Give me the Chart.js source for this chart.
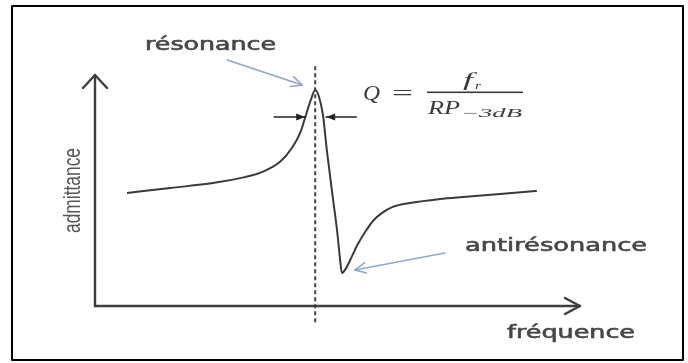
<!DOCTYPE html>
<html>
<head>
<meta charset="utf-8">
<script src="https://cdn.jsdelivr.net/npm/chart.js@4/dist/chart.umd.min.js"></script>
<style>
  html, body { margin: 0; padding: 0; background: #fff; }
  #wrap { width: 688px; height: 363px; position: relative; }
</style>
</head>
<body>
<div id="wrap"><canvas id="myChart"></canvas></div>
<script>
// courbe d'admittance d'un résonateur (unités arbitraires, axes 0..100)
const frequence = [6.6, 15.5, 24.3, 30.9, 34.0, 38.1, 40.6, 42.3, 43.5, 44.5, 45.4, 46.2, 47.0, 47.8, 49.1, 49.9, 50.5, 50.9, 51.8, 53.0, 54.2, 55.7, 57.3, 59.2, 61.4, 64.9, 71.1, 75.9, 83.5, 91.1];
const admittance = [48.9, 51.1, 53.2, 55.8, 57.6, 62.3, 68.4, 74.9, 82.7, 89.2, 93.5, 90.5, 82.7, 67.5, 45.9, 32.9, 20.8, 14.3, 16.5, 21.6, 26.8, 32.0, 36.8, 40.3, 42.9, 44.6, 46.3, 47.2, 48.5, 49.8];

// ligne pointillée verticale à la fréquence de résonance
const reperY = [-7, 104];

// textes
const labelResonance = "résonance";
const labelAntiResonance = "antirésonance";
const labelX = "fréquence";
const labelY = "admittance";

const pics = frequence.map((f, i) => ({ x: f, y: admittance[i] }));
const iMax = admittance.indexOf(Math.max(...admittance));
const iMin = admittance.indexOf(Math.min(...admittance));
const fRes = frequence[iMax];

// texte étiré horizontalement pour tenir dans une largeur donnée
function drawFit(ctx, txt, x, y, w, font, color, thick) {
  ctx.save();
  ctx.font = font;
  ctx.fillStyle = color;
  ctx.textBaseline = "alphabetic";
  ctx.textAlign = "left";
  const m = ctx.measureText(txt).width;
  ctx.translate(x, y);
  ctx.scale(w / m, 1);
  ctx.fillText(txt, 0, 0);
  if (thick) {
    ctx.strokeStyle = color;
    ctx.lineWidth = thick;
    ctx.strokeText(txt, 0, 0);
  }
  ctx.restore();
}

function line(ctx, x1, y1, x2, y2) {
  ctx.beginPath();
  ctx.moveTo(x1, y1);
  ctx.lineTo(x2, y2);
  ctx.stroke();
}

// flèche ouverte (chevron) au bout d'un segment
function openArrow(ctx, x1, y1, x2, y2, len, spread) {
  line(ctx, x1, y1, x2, y2);
  const a = Math.atan2(y2 - y1, x2 - x1);
  ctx.beginPath();
  ctx.moveTo(x2 - len * Math.cos(a - spread), y2 - len * Math.sin(a - spread));
  ctx.lineTo(x2, y2);
  ctx.lineTo(x2 - len * Math.cos(a + spread), y2 - len * Math.sin(a + spread));
  ctx.stroke();
}

// flèche pleine horizontale (largeur de bande)
function solidArrow(ctx, xFrom, xTo, y) {
  line(ctx, xFrom, y, xTo, y);
  const d = Math.sign(xTo - xFrom);
  ctx.beginPath();
  ctx.moveTo(xTo, y);
  ctx.lineTo(xTo - d * 9, y - 3.5);
  ctx.lineTo(xTo - d * 9, y + 3.5);
  ctx.closePath();
  ctx.fill();
}

const decor = {
  id: "decor",
  afterDraw(chart) {
    const ctx = chart.ctx;
    const xs = chart.scales.x, ys = chart.scales.y;
    const x0 = xs.getPixelForValue(0), y0 = ys.getPixelForValue(0);
    const xEnd = xs.getPixelForValue(100), yEnd = ys.getPixelForValue(100);

    ctx.save();
    ctx.lineCap = "round";
    ctx.lineJoin = "round";

    // cadre
    ctx.strokeStyle = "#000";
    ctx.lineWidth = 2;
    ctx.strokeRect(12, 6, 671, 354);

    // axes avec flèches
    ctx.strokeStyle = "#3d3d3d";
    ctx.lineWidth = 2.4;
    line(ctx, x0, y0, x0, yEnd);
    line(ctx, x0, y0, xEnd, y0);
    ctx.beginPath();
    ctx.moveTo(x0 - 12, yEnd + 13); ctx.lineTo(x0, yEnd); ctx.lineTo(x0 + 12, yEnd + 13);
    ctx.stroke();
    ctx.beginPath();
    ctx.moveTo(xEnd - 15, y0 - 8); ctx.lineTo(xEnd, y0); ctx.lineTo(xEnd - 15, y0 + 8);
    ctx.stroke();

    const px = xs.getPixelForValue(frequence[iMax]);
    const py = ys.getPixelForValue(admittance[iMax]);
    const mx = xs.getPixelForValue(frequence[iMin]);
    const my = ys.getPixelForValue(admittance[iMin]);

    // largeur de bande à -3 dB
    ctx.fillStyle = "#222";
    ctx.strokeStyle = "#222";
    ctx.lineWidth = 1.6;
    solidArrow(ctx, px - 41, px - 10, py + 27);
    solidArrow(ctx, px + 41, px + 11, py + 27);

    // flèches bleues
    ctx.strokeStyle = "#8fa8cc";
    ctx.lineWidth = 1.6;
    openArrow(ctx, px - 88, py - 30, px - 13, py - 5, 12, 0.45);
    openArrow(ctx, mx + 103, my - 20, mx + 13, my - 3, 12, 0.45);

    // étiquettes
    const t = "#474747";
    drawFit(ctx, labelResonance, 145, 50, 131, "17px 'DejaVu Sans'", t, 0.6);
    drawFit(ctx, labelAntiResonance, 465, 251, 182, "18px 'DejaVu Sans'", t, 0.6);
    drawFit(ctx, labelX, 507, 338, 128, "18px 'DejaVu Sans'", t, 0.6);

    ctx.save();
    ctx.translate(80, 233);
    ctx.rotate(-Math.PI / 2);
    drawFit(ctx, labelY, 0, 0, 85, "24px 'Liberation Sans'", "#555");
    ctx.restore();

    // facteur de qualité
    const c = "#3a3a3a";
    drawFit(ctx, "Q", 363, 100, 17, "italic 20px 'Liberation Serif'", c);
    drawFit(ctx, "=", 392, 100, 21, "22px 'Liberation Serif'", c);
    ctx.fillStyle = c;
    ctx.fillRect(427, 91.5, 96, 1.6);
    drawFit(ctx, "f", 463, 86, 10, "italic 18px 'Liberation Serif'", c);
    drawFit(ctx, "r", 475, 89, 6, "italic 11px 'Liberation Serif'", c);
    drawFit(ctx, "RP", 428, 114, 32, "italic 19px 'Liberation Serif'", c);
    drawFit(ctx, "−3dB", 461, 117, 61, "italic 12px 'Liberation Serif'", c);

    ctx.restore();
  }
};

const data = {
  datasets: [
    {
      label: "admittance",
      data: pics,
      borderColor: "#3a3a3a",
      borderWidth: 2,
      pointRadius: 0,
      cubicInterpolationMode: "monotone",
      fill: false,
    },
    {
      label: "résonance",
      data: reperY.map((y) => ({ x: fRes, y: y })),
      borderColor: "#444",
      borderWidth: 2,
      borderDash: [4, 3],
      pointRadius: 0,
      clip: false,
    },
  ],
};

const config = {
  type: "line",
  data: data,
  options: {
    responsive: true,
    maintainAspectRatio: false,
    animation: false,
    layout: { padding: { left: 95, right: 108, top: 75, bottom: 57 } },
    plugins: {
      legend: { display: false },
      tooltip: { enabled: false },
    },
    scales: {
      x: { type: "linear", min: 0, max: 100, display: false },
      y: { type: "linear", min: 0, max: 100, display: false },
    },
  },
  plugins: [decor],
};

const ctx = document.getElementById("myChart").getContext("2d");
new Chart(ctx, config);
</script>
</body>
</html>
